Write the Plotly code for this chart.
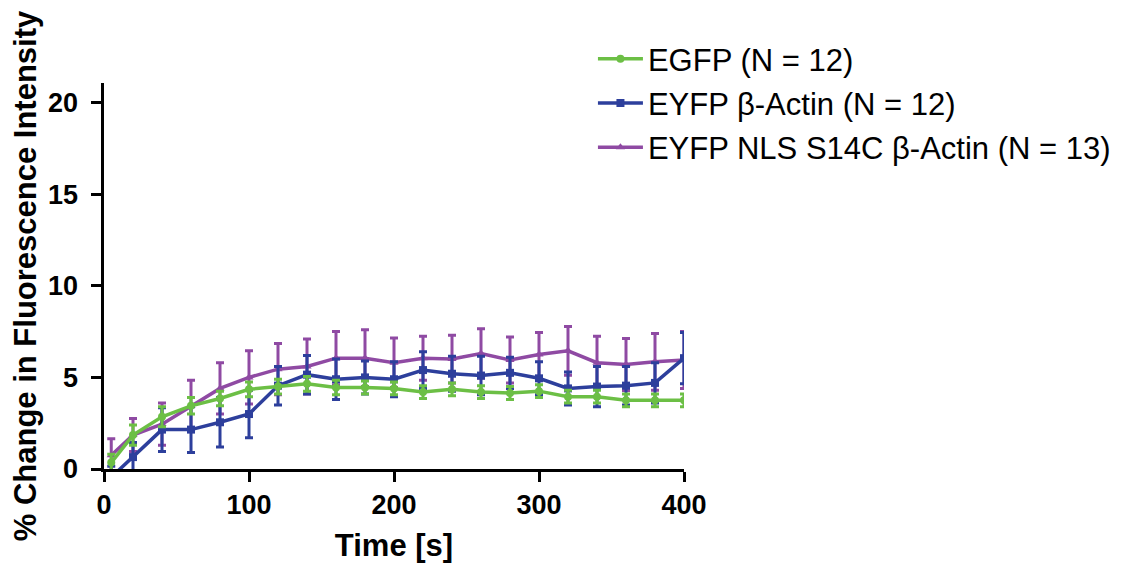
import plotly.graph_objects as go

time_s = [5, 20, 40, 60, 80, 100, 120, 140, 160, 180, 200, 220, 240, 260, 280, 300, 320, 340, 360, 380, 400]

egfp_mean = [0.35, 1.85, 2.85, 3.45, 3.85, 4.35, 4.5, 4.65, 4.45, 4.45, 4.4, 4.2, 4.35, 4.2, 4.15, 4.25, 3.95, 3.95, 3.75, 3.75, 3.75]
egfp_err = [0.45, 0.55, 0.55, 0.45, 0.4, 0.4, 0.4, 0.4, 0.4, 0.35, 0.35, 0.35, 0.35, 0.35, 0.35, 0.35, 0.35, 0.35, 0.35, 0.35, 0.35]

actin_mean = [-0.45, 0.65, 2.15, 2.15, 2.55, 3.0, 4.55, 5.15, 4.9, 5.0, 4.9, 5.4, 5.2, 5.1, 5.25, 4.95, 4.4, 4.5, 4.55, 4.7, 6.05]
actin_err = [0.6, 0.8, 1.2, 1.25, 1.35, 1.3, 1.05, 1.05, 1.1, 0.9, 0.95, 1.0, 0.95, 1.05, 0.85, 0.9, 0.9, 1.1, 1.05, 1.1, 1.4]

nls_mean = [0.75, 1.85, 2.45, 3.45, 4.4, 5.0, 5.45, 5.6, 6.05, 6.05, 5.8, 6.05, 6.0, 6.3, 5.95, 6.25, 6.45, 5.8, 5.7, 5.85, 5.95]
nls_err = [0.9, 0.9, 1.15, 1.4, 1.4, 1.45, 1.4, 1.5, 1.45, 1.55, 1.35, 1.2, 1.3, 1.35, 1.25, 1.2, 1.33, 1.45, 1.42, 1.55, 1.55]

series_names = ["EGFP (N = 12)", "EYFP β-Actin (N = 12)", "EYFP NLS S14C β-Actin (N = 13)"]
colors = ["#6cbf45", "#2d3f9c", "#8f4aa3"]
symbols = ["circle", "square", "triangle-up"]

y_ticks = [0, 5, 10, 15, 20]
x_ticks = [0, 100, 200, 300, 400]

FONT = "Liberation Sans, Arial, sans-serif"

fig = go.Figure()
data = [(egfp_mean, egfp_err), (actin_mean, actin_err), (nls_mean, nls_err)]
for i in [2, 1, 0]:
    m, e = data[i]
    fig.add_trace(go.Scatter(
        x=time_s, y=m, name=series_names[i], mode="lines+markers",
        legendgroup="g%d" % i, legendrank=i + 1,
        line=dict(color=colors[i], width=3.5),
        marker=dict(symbol=symbols[i], size=8, color=colors[i]),
        error_y=dict(type="data", array=e, visible=True, color=colors[i], thickness=3, width=4),
    ))

fig.update_layout(
    width=1141, height=573,
    paper_bgcolor="white", plot_bgcolor="white",
    margin=dict(l=96, r=465, t=75, b=112, autoexpand=False),
    font=dict(family=FONT, color="black"),
    showlegend=True,
    legend=dict(
        x=0.843, y=1.132, xanchor="left", yanchor="top",
        traceorder="grouped",
        font=dict(family=FONT, size=31, color="black"),
        bgcolor="rgba(0,0,0,0)",
        tracegroupgap=1, itemwidth=45,
    ),
    xaxis=dict(
        range=[0, 400], tickvals=x_ticks, ticktext=[str(v) for v in x_ticks],
        showgrid=False, zeroline=False, showline=True, linecolor="black", linewidth=3,
        ticks="outside", ticklen=10, tickwidth=3, tickcolor="black", automargin=False,
        tickfont=dict(family=FONT, size=27, color="black", weight="bold"),
        title=dict(text="<b>Time [s]</b>", font=dict(family=FONT, size=31, color="black")),
    ),
    yaxis=dict(
        range=[0, 21.07], tickvals=y_ticks, ticktext=[str(v) + "\u00a0" for v in y_ticks],
        showgrid=False, zeroline=False, showline=True, linecolor="black", linewidth=3,
        ticks="outside", ticklen=10, tickwidth=3, tickcolor="black", automargin=False,
        tickfont=dict(family=FONT, size=27, color="black", weight="bold"),
        title=dict(text="<b>% Change in Fluorescence Intensity</b>", font=dict(family=FONT, size=31, color="black")),
    ),
)

fig.write_html("out.html")
